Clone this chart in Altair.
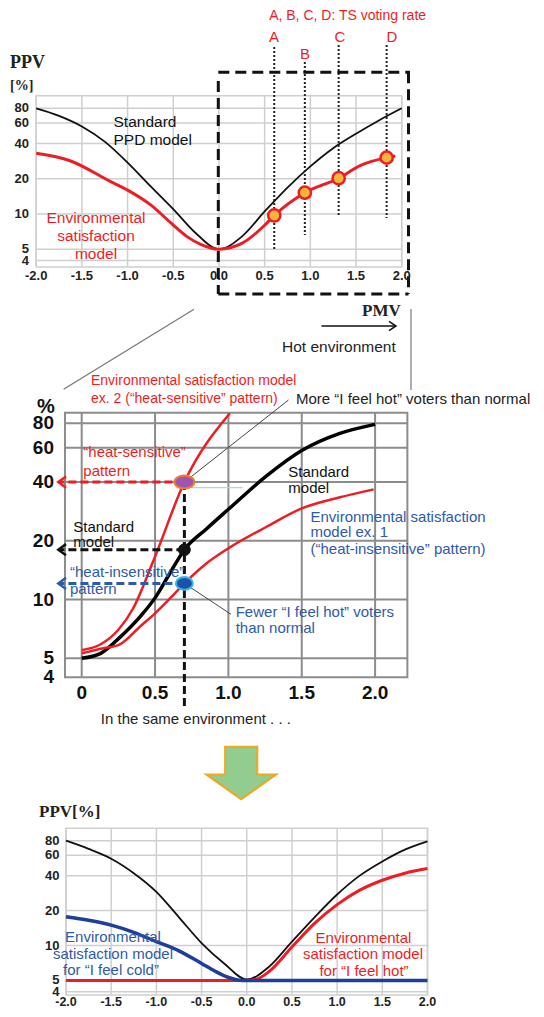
import altair as alt
import pandas as pd

# ---------------- Panel 1 data ----------------
P1_PMV = [-2.0, -1.75, -1.5, -1.25, -1.0, -0.75, -0.5, -0.25, 0.0, 0.25, 0.5, 0.75, 1.0, 1.25, 1.5, 1.75, 2.0]
P1_STANDARD = [80, 69, 56, 41.5, 27.5, 17.3, 11, 6.8, 5, 6.4, 10.5, 16.8, 25.5, 36.5, 48.5, 63, 80]
P1_ENV_PMV = [-2.0, -1.63, -1.19, -1.0, -0.75, -0.52, -0.35, -0.2, 0.0, 0.25, 0.5, 0.605, 0.94, 1.31, 1.55, 1.835, 1.93]
P1_ENV = [33, 28.5, 19, 16, 12, 8.3, 6.4, 5.5, 5, 5.6, 8, 9.7, 15.2, 20.2, 26, 30.3, 31.3]
VOTE_LABELS = ["A", "B", "C", "D"]
VOTE_PMV = [0.605, 0.94, 1.31, 1.835]
VOTE_PPV = [9.7, 15.2, 20.2, 30.3]
P1_XTICKS = [-2.0, -1.5, -1.0, -0.5, 0.0, 0.5, 1.0, 1.5, 2.0]
P1_XLABELS = ["-2.0", "-1.5", "-1.0", "-0.5", "0.0", "0.5", "1.0", "1.5", "2.0"]
YTICKS = [80, 60, 40, 20, 10, 5, 4]
YLABELS = ["80", "60", "40", "20", "10", "5", "4"]

# ---------------- Panel 2 data ----------------
P2_STD_PMV = [0.0, 0.13, 0.26, 0.4, 0.5, 0.6, 0.7, 0.85, 1.0, 1.26, 1.5, 1.76, 2.0]
P2_STANDARD = [5, 5.3, 6.4, 8.2, 10.2, 13.6, 18, 23, 29, 43, 58, 71, 79]
P2_EX1_PMV = [0.0, 0.13, 0.26, 0.4, 0.5, 0.6, 0.7, 0.85, 1.0, 1.26, 1.5, 1.76, 1.99]
P2_EX1 = [5.3, 5.6, 5.9, 7.3, 8.5, 10.1, 12.1, 15.3, 18.3, 23.6, 29.3, 33.4, 36.7]
P2_EX2_PMV = [0.0, 0.13, 0.25, 0.35, 0.49, 0.7, 1.01]
P2_EX2 = [5.5, 5.9, 7.0, 9.0, 15.9, 40, 90]
SAME_PMV = 0.7
SAME_SENSITIVE = 40
SAME_STANDARD = 18
SAME_INSENSITIVE = 12.1
P2_XTICKS = [0.0, 0.5, 1.0, 1.5, 2.0]
P2_XLABELS = ["0", "0.5", "1.0", "1.5", "2.0"]
P2_YTICKS = [80, 60, 40, 20, 10, 5]

# ---------------- Panel 3 data ----------------
P3_PMV = [-2.0, -1.75, -1.5, -1.25, -1.0, -0.75, -0.5, -0.25, 0.0, 0.25, 0.5, 0.75, 1.0, 1.25, 1.5, 1.75, 2.0]
P3_STANDARD = [80, 68, 56, 42, 29, 17.5, 10.5, 7.0, 5.1, 6.6, 10.8, 17.5, 27.5, 40, 53, 67, 79]
P3_HOT_PMV = [-2.0, -1.0, -0.5, 0.0, 0.1, 0.25, 0.5, 0.75, 1.0, 1.25, 1.5, 1.75, 2.0]
P3_HOT = [5, 5, 5, 5, 5.1, 6.0, 9.7, 15.5, 22.5, 30, 36.5, 42, 46]
P3_COLD_PMV = [-2.0, -1.75, -1.5, -1.25, -1.0, -0.75, -0.5, -0.35, -0.2, -0.05, 0.0, 1.0, 2.0]
P3_COLD = [17.7, 16.5, 15, 13, 10.8, 9.0, 7.0, 6.0, 5.3, 5.0, 5.0, 5.0, 5.0]

# ---------------- helpers ----------------
OFF = 8
W, H = 528, 1001
RED = "#ee1d23"
BLUE_T = "#2f5aa8"
BLUE_L = "#1f3d9e"
SANS = "Liberation Sans"
SERIF = "Liberation Serif"


def sx(dom, r0, r1):
    return alt.Scale(domain=dom, range=[r0 - OFF, r1 - OFF], nice=False, zero=False)


def sy(dom, r0, r1):
    return alt.Scale(type="log", domain=dom, range=[r0 - OFF, r1 - OFF], nice=False)


X1 = sx([-2, 2], 36.2, 401.7)
Y1 = sy([4, 80], 260.5, 108.3)
X2 = sx([0, 2], 81.7, 375.1)
Y2 = sy([5, 80], 658.3, 423.3)
X3 = sx([-2, 2], 66, 427.5)
Y3 = sy([4, 80], 991.7, 840.7)

ONE = alt.Data(values=[{"a": 1}])


def enc_xy(X, Y, xf="x:Q", yf="y:Q"):
    return dict(x=alt.X(xf, scale=X, axis=None), y=alt.Y(yf, scale=Y, axis=None))


def curve(xs, ys, X, Y, color, width):
    df = pd.DataFrame({"x": xs, "y": ys})
    return alt.Chart(df).mark_line(color=color, strokeWidth=width, interpolate="monotone").encode(**enc_xy(X, Y))


def grid(xt, yt, X, Y, xlo, xhi, ylo, yhi, color, width):
    h = pd.DataFrame({"y": yt, "x": [xlo] * len(yt), "x2": [xhi] * len(yt)})
    v = pd.DataFrame({"x": xt, "y": [ylo] * len(xt), "y2": [yhi] * len(xt)})
    hl = alt.Chart(h).mark_rule(color=color, strokeWidth=width).encode(x2="x2:Q", **enc_xy(X, Y))
    vl = alt.Chart(v).mark_rule(color=color, strokeWidth=width).encode(y2="y2:Q", **enc_xy(X, Y))
    fr = pd.DataFrame({"x": [xlo], "x2": [xhi], "y": [ylo], "y2": [yhi]})
    fl = alt.Chart(fr).mark_rect(fillOpacity=0, stroke=color, strokeWidth=width).encode(
        x2="x2:Q", y2="y2:Q", **enc_xy(X, Y))
    return [hl, vl, fl]


def ylabels(vals, labs, Y, xpix, size, color="#222"):
    df = pd.DataFrame({"y": vals, "t": labs})
    return alt.Chart(df).mark_text(align="right", baseline="middle", fontSize=size, font=SANS,
                                   fontWeight="bold", color=color).encode(
        x=alt.value(xpix - OFF), y=alt.Y("y:Q", scale=Y, axis=None), text="t:N")


def xlabels(vals, labs, X, ypix, size, color="#222"):
    df = pd.DataFrame({"x": vals, "t": labs})
    return alt.Chart(df).mark_text(align="center", baseline="middle", fontSize=size, font=SANS,
                                   fontWeight="bold", color=color).encode(
        x=alt.X("x:Q", scale=X, axis=None), y=alt.value(ypix - OFF), text="t:N")


def ptext(s, x, y, color="#111", size=15, align="left", font=SANS, weight="normal"):
    return alt.Chart(ONE).mark_text(text=s, align=align, baseline="middle", fontSize=size, font=font,
                                    fontWeight=weight, color=color).encode(
        x=alt.value(x - OFF), y=alt.value(y - OFF))


def prule(x1, y1, x2, y2, color="#777", width=1.2, dash=None):
    kw = dict(color=color, strokeWidth=width, strokeCap="butt")
    if dash:
        kw["strokeDash"] = dash
    return alt.Chart(ONE).mark_rule(**kw).encode(
        x=alt.value(x1 - OFF), y=alt.value(y1 - OFF), x2=alt.value(x2 - OFF), y2=alt.value(y2 - OFF))


def psym(shape, x, y, size, fill=None, stroke=None, sw=1.0):
    kw = dict(shape=shape, size=size, opacity=1, strokeWidth=sw)
    if fill:
        kw["filled"] = True
        kw["fill"] = fill
    else:
        kw["filled"] = False
    if stroke:
        kw["stroke"] = stroke
    return alt.Chart(ONE).mark_point(**kw).encode(x=alt.value(x - OFF), y=alt.value(y - OFF))


def dsym(shape, xv, yv, X, Y, size, fill, stroke, sw):
    df = pd.DataFrame({"x": [xv], "y": [yv]})
    return alt.Chart(df).mark_point(shape=shape, size=size, filled=True, fill=fill, stroke=stroke,
                                    strokeWidth=sw, opacity=1).encode(**enc_xy(X, Y))


def drule_to_px(xv, yv, X, Y, x2=None, y2=None, color="#000", width=1.0, dash=None):
    df = pd.DataFrame({"x": [xv], "y": [yv]})
    kw = dict(color=color, strokeWidth=width, strokeCap="butt")
    if dash:
        kw["strokeDash"] = dash
    e = enc_xy(X, Y)
    if x2 is not None:
        e["x2"] = alt.value(x2 - OFF)
    if y2 is not None:
        e["y2"] = alt.value(y2 - OFF)
    return alt.Chart(df).mark_rule(**kw).encode(**e)


ELLIPSE = "M-1,0 A1,0.65 0 1,1 1,0 A1,0.65 0 1,1 -1,0 Z"
ELLIPSE2 = "M-1,0 A1,0.75 0 1,1 1,0 A1,0.75 0 1,1 -1,0 Z"
CHEV_L = "M1.1,-0.8 L0,0 L1.1,0.8"
CHEV_R = "M-1,-0.65 L0,0 L-1,0.65"
BIG_ARROW = "M-0.46,-0.75 L0.46,-0.75 L0.46,0.04 L1,0.04 L0,0.75 L-1,0.04 L-0.46,0.04 Z"

layers = []

# ================= Panel 1 =================
layers += grid(P1_XTICKS, YTICKS, X1, Y1, -2, 2, 3.52, 102.5, "#cfcfcf", 1.5)
layers.append(curve(P1_PMV, P1_STANDARD, X1, Y1, "#111", 1.8))
layers.append(curve(P1_ENV_PMV, P1_ENV, X1, Y1, RED, 3))
vote_tops = [47, 62, 45, 45]
vote_bots = [250, 235, 215, 218]
for pm, t, b in zip(VOTE_PMV, vote_tops, vote_bots):
    layers.append(alt.Chart(pd.DataFrame({"x": [pm]})).mark_rule(color="#222", strokeWidth=2, strokeDash=[2, 2]).encode(
        x=alt.X("x:Q", scale=X1, axis=None), y=alt.value(t - OFF), y2=alt.value(b - OFF)))
vote_df = pd.DataFrame({"x": VOTE_PMV, "y": VOTE_PPV})
layers.append(alt.Chart(vote_df).mark_point(shape="circle", size=150, filled=True, fill="#f5b43a", stroke=RED,
                                            strokeWidth=2.5, opacity=1).encode(**enc_xy(X1, Y1)))
# dashed zoom box
layers.append(prule(218.3, 72.3, 410, 72.3, "#111", 3, [11, 6]))
layers.append(prule(408.5, 72.3, 408.5, 294, "#111", 3, [11, 6]))
layers.append(prule(218.3, 294, 408.5, 294, "#111", 3, [11, 6]))
layers.append(prule(218.3, 81, 218.3, 294, "#111", 3, [11, 6]))
layers.append(ylabels(YTICKS, YLABELS, Y1, 29, 13))
layers.append(xlabels(P1_XTICKS, P1_XLABELS, X1, 276, 13))
layers.append(ptext("A, B, C, D: TS voting rate", 347.6, 16, RED, 14, "center"))
for lab, lx, ly in zip(VOTE_LABELS, [274, 305, 340, 392], [37, 54, 37, 37]):
    layers.append(ptext(lab, lx, ly, RED, 15, "center"))
layers.append(ptext("PPV", 10, 63, "#222", 18, "left", SERIF, "bold"))
layers.append(ptext("[%]", 10, 86, "#222", 14, "left", SERIF, "bold"))
layers.append(ptext("Standard", 113.5, 122, "#111", 15.5))
layers.append(ptext("PPD model", 113.5, 140, "#111", 15.5))
layers.append(ptext("Environmental", 96, 218.3, RED, 15.5, "center"))
layers.append(ptext("satisfaction", 96, 236, RED, 15.5, "center"))
layers.append(ptext("model", 96, 253.5, RED, 15.5, "center"))
layers.append(ptext("PMV", 362, 310.7, "#222", 17, "left", SERIF, "bold"))
layers.append(prule(321.5, 326, 395, 326, "#111", 1.5))
layers.append(psym(CHEV_R, 396, 326, 196, None, "#111", 1.5))
layers.append(ptext("Hot environment", 282, 346.7, "#222", 15.5))
# connectors
layers.append(prule(411, 309, 411, 390, "#777", 1.2))
layers.append(prule(194, 309.3, 63.6, 389.3, "#777", 1.2))

# ================= Panel 2 =================
layers += grid(P2_XTICKS, P2_YTICKS, X2, Y2, -0.114, 2.22, 4, 90.6, "#8c8c8c", 2)
layers.append(curve(P2_STD_PMV, P2_STANDARD, X2, Y2, "#000", 3.5))
layers.append(curve(P2_EX1_PMV, P2_EX1, X2, Y2, RED, 2.5))
layers.append(curve(P2_EX2_PMV, P2_EX2, X2, Y2, RED, 2.5))
layers.append(prule(176.7, 487.7, 242.7, 487.7, "#9fdde8", 1.2))
# same-environment guides
layers.append(drule_to_px(SAME_PMV, SAME_SENSITIVE, X2, Y2, y2=707, color="#111", width=3, dash=[8, 4]))
layers.append(drule_to_px(SAME_PMV, SAME_SENSITIVE, X2, Y2, x2=60, color=RED, width=3, dash=[8, 4]))
layers.append(drule_to_px(SAME_PMV, SAME_STANDARD, X2, Y2, x2=60, color="#111", width=3, dash=[8, 4]))
layers.append(drule_to_px(SAME_PMV, SAME_INSENSITIVE, X2, Y2, x2=60, color="#2f5aa8", width=3, dash=[8, 4]))
for val, col in [(SAME_SENSITIVE, RED), (SAME_STANDARD, "#111"), (SAME_INSENSITIVE, "#2f5aa8")]:
    layers.append(alt.Chart(pd.DataFrame({"y": [val]})).mark_point(shape=CHEV_L, size=196, filled=False,
                                                                     stroke=col, strokeWidth=2.5, opacity=1).encode(
        x=alt.value(58.3 - OFF), y=alt.Y("y:Q", scale=Y2, axis=None)))
# leader lines
layers.append(drule_to_px(SAME_PMV, SAME_SENSITIVE, X2, Y2, x2=288.5, y2=400, color="#444", width=1))
layers.append(drule_to_px(SAME_PMV, SAME_INSENSITIVE, X2, Y2, x2=231, y2=614.3, color="#444", width=1))
# dots
layers.append(dsym(ELLIPSE, SAME_PMV, SAME_SENSITIVE, X2, Y2, 400, "#9c55b0", "#f07d2a", 2))
layers.append(dsym("circle", SAME_PMV, SAME_STANDARD, X2, Y2, 140, "#111", "#111", 1))
layers.append(dsym(ELLIPSE2, SAME_PMV, SAME_INSENSITIVE, X2, Y2, 289, "#1d50a8", "#35b7e8", 2))
layers.append(ylabels(YTICKS, YLABELS, Y2, 54, 19, "#111"))
layers.append(xlabels(P2_XTICKS, P2_XLABELS, X2, 693, 19, "#111"))
layers.append(ptext("%", 46, 407, "#111", 20, "center", SANS, "bold"))
layers.append(ptext("Environmental satisfaction model", 91, 380.7, RED, 14))
layers.append(ptext("ex. 2 (\u201cheat-sensitive\u201d pattern)", 91, 399, RED, 14))
layers.append(ptext("More \u201cI feel hot\u201d voters than normal", 296, 399, "#222", 15))
layers.append(ptext("\u201cheat-sensitive\u201d", 83.3, 451.7, RED, 15))
layers.append(ptext("pattern", 83.3, 471, RED, 15))
layers.append(ptext("Standard", 288.3, 471.7, "#111", 15))
layers.append(ptext("model", 288.3, 488.3, "#111", 15))
layers.append(ptext("Environmental satisfaction", 310.5, 516.7, BLUE_T, 15))
layers.append(ptext("model ex. 1", 310.5, 532, BLUE_T, 15))
layers.append(ptext("(\u201cheat-insensitive\u201d pattern)", 310.5, 548.5, BLUE_T, 15))
layers.append(ptext("Standard", 73.3, 526.7, "#111", 15))
layers.append(ptext("model", 73.3, 542.3, "#111", 15))
layers.append(ptext("\u201cheat-insensitive\u201d", 70, 571.7, BLUE_T, 15))
layers.append(ptext("pattern", 70, 589.3, BLUE_T, 15))
layers.append(ptext("Fewer \u201cI feel hot\u201d voters", 235.7, 612.3, BLUE_T, 15))
layers.append(ptext("than normal", 235.7, 628.3, BLUE_T, 15))
layers.append(ptext("In the same environment . . .", 100.8, 719.3, "#222", 15))

# ================= Arrow =================
layers.append(psym(BIG_ARROW, 241.2, 773, 4900, "#92cc8e", "#f0a81c", 2))

# ================= Panel 3 =================
layers += grid(P1_XTICKS, YTICKS, X3, Y3, -2, 2, 3.74, 102.5, "#cfcfcf", 1.5)
layers.append(curve(P3_PMV, P3_STANDARD, X3, Y3, "#111", 1.8))
layers.append(curve(P3_HOT_PMV, P3_HOT, X3, Y3, RED, 3))
layers.append(curve(P3_COLD_PMV, P3_COLD, X3, Y3, BLUE_L, 3.5))
layers.append(ylabels(YTICKS, YLABELS, Y3, 59.5, 13))
layers.append(xlabels(P1_XTICKS, P1_XLABELS, X3, 1002.3, 12.5))
layers.append(ptext("PPV[%]", 39, 811.7, "#222", 17, "left", SERIF, "bold"))
layers.append(ptext("Environmental", 113, 937.3, BLUE_T, 15, "center"))
layers.append(ptext("satisfaction model", 113, 954.3, BLUE_T, 15, "center"))
layers.append(ptext("for \u201cI feel cold\u201d", 111, 970, BLUE_T, 15, "center"))
layers.append(ptext("Environmental", 363.5, 938.3, RED, 15, "center"))
layers.append(ptext("satisfaction model", 363, 954.3, RED, 15, "center"))
layers.append(ptext("for \u201cI feel hot\u201d", 364, 970.7, RED, 15, "center"))

chart = alt.layer(*layers).resolve_scale(x="independent", y="independent").properties(
    width=W, height=H, padding=0, autosize=alt.AutoSizeParams(type="none")
).configure_view(strokeWidth=0)

chart.save("out.html", embed_options={"renderer": "svg", "actions": False})
